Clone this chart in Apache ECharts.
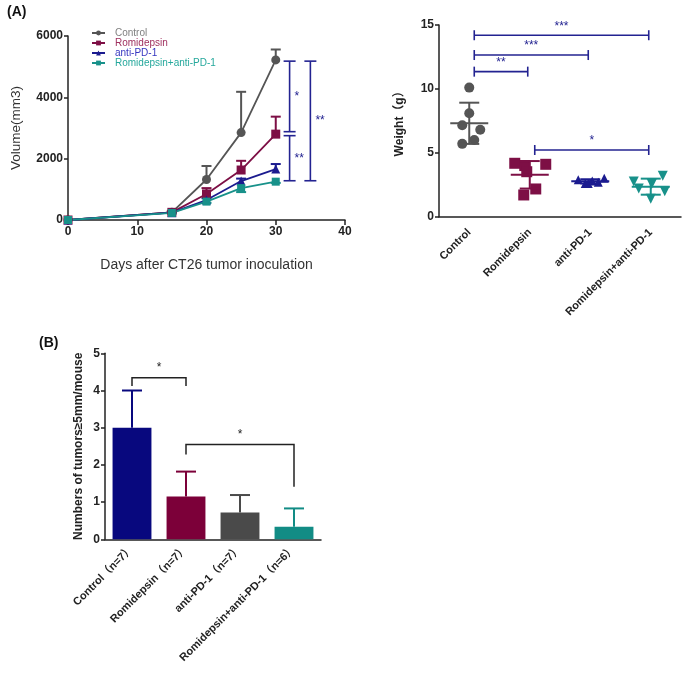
<!DOCTYPE html>
<html><head><meta charset="utf-8">
<script src="https://cdn.jsdelivr.net/npm/echarts@6/dist/echarts.min.js"></script>
<style>html,body{margin:0;padding:0;background:#fff}#c{width:685px;height:678px}</style>
</head><body><div id="c"></div>
<script>
// ---------- data ----------
const days = [0, 15, 20, 25, 30];
const groupNames = ['Control', 'Romidepsin', 'anti-PD-1', 'Romidepsin+anti-PD-1'];
const volControl = [0, 250, 1320, 2850, 5220];
const volRomi    = [0, 250, 850, 1630, 2800];
const volAnti    = [0, 240, 650, 1270, 1660];
const volCombo   = [0, 230, 600, 1040, 1250];
const semControl = [0, 30, 440, 1330, 340];
const semRomi    = [0, 30, 190, 300, 570];
const semAnti    = [0, 20, 60, 80, 165];
const semCombo   = [0, 20, 40, 130, 40];   // drawn below the mean

const volSigDay   = [32, 32, 35];
const volSigLow   = [2880, 1280, 1280];
const volSigHigh  = [5180, 2750, 5180];
const volSigLabel = ['*', '**', '**'];

const wControl = [10.1, 8.1, 7.15, 6.8, 6.0, 5.7];
const wRomi    = [4.18, 4.0, 4.1, 3.52, 2.17, 1.7];
const wAnti    = [2.9, 2.6, 2.8, 2.7, 3.0, 2.6];
const wCombo   = [3.2, 2.75, 2.55, 2.2, 2.0, 1.4];

const wSigFrom  = [0, 0, 0, 1];
const wSigTo    = [3, 2, 1, 3];
const wSigY     = [14.2, 12.65, 11.35, 5.22];
const wSigLabel = ['***', '***', '**', '*'];

const tumorNames = ['Control（n=7）', 'Romidepsin（n=7）', 'anti-PD-1（n=7）', 'Romidepsin+anti-PD-1（n=6）'];
const tumorMean  = [3.0, 1.15, 0.72, 0.34];
const tumorSD    = [1.0, 0.67, 0.47, 0.49];

const tSigFrom     = [0, 1];
const tSigTo       = [1, 3];
const tSigY        = [4.34, 2.55];
const tSigLeftEnd  = [4.12, 2.28];
const tSigRightEnd = [4.12, 1.41];
const tSigLabel    = ['*', '*'];

// ---------- styles ----------
const FONT = 'Arial, "Liberation Sans", "Noto Sans CJK SC", sans-serif';
const C_CTRL = '#555555', C_ROMI = '#7d0f45', C_ANTI = '#1b1b8f', C_COMBO = '#18918a';
const C_SIG = '#232391';
const AX = '#222';
const jitterControl = [0, 0, -7, 11, 5, -7];
const jitterRomi    = [-15, -5, 16, -3, 6, -6];
const jitterAnti    = [-12, -5, 2, 8, 14, -2];
const jitterCombo   = [12, -17, 1, -12, 14, 0];

function mean(a){ return a.reduce((s,v)=>s+v,0)/a.length; }
function sd(a){ const m=mean(a); return Math.sqrt(a.reduce((s,v)=>s+(v-m)*(v-m),0)/(a.length-1)); }
function barColor(i){ return ['#08087e', '#7c0039', '#4a4a4a', '#128c85'][i]; }

function errBar(dir, cap, lw){
  return function(params, api){
    const x = api.value(0), m = api.value(1), e = api.value(2);
    if (!e) return;
    const p0 = api.coord([x, m]), p1 = api.coord([x, m + dir*e]);
    const c = api.visual('color');
    return {type:'group', children:[
      {type:'line', shape:{x1:p0[0],y1:p0[1],x2:p1[0],y2:p1[1]}, style:{stroke:c,lineWidth:lw}},
      {type:'line', shape:{x1:p1[0]-cap,y1:p1[1],x2:p1[0]+cap,y2:p1[1]}, style:{stroke:c,lineWidth:lw}}
    ]};
  };
}

function lineSeries(name, vals, color, symbol, size){
  return {name, type:'line', xAxisIndex:0, yAxisIndex:0, data: days.map((d,i)=>[d, vals[i]]),
    symbol, symbolSize:size, lineStyle:{color, width:1.8}, itemStyle:{color}, z:3};
}
function lineErr(vals, sems, color, dir){
  return {type:'custom', xAxisIndex:0, yAxisIndex:0, itemStyle:{color}, z:2, silent:true,
    data: days.map((d,i)=>[d, vals[i], sems[i]]), renderItem: errBar(dir, 5, 2)};
}
function scatterSeries(idx, vals, jit, color, symbol, size, rot){
  return {type:'scatter', xAxisIndex:1, yAxisIndex:1, symbol, symbolSize:size, symbolRotate:rot||0,
    itemStyle:{color, opacity:1}, z:3,
    data: vals.map((v,i)=>({value:[idx, v], symbolOffset:[jit[i], 0]}))};
}

const wGroups = [wControl, wRomi, wAnti, wCombo];
const wColors = [C_CTRL, C_ROMI, C_ANTI, C_COMBO];

const chart = echarts.init(document.getElementById('c'), null, {renderer:'canvas'});
const option = {
  animation:false,
  backgroundColor:'#fff',
  textStyle:{fontFamily:FONT},
  title:[
    {text:'(A)', left:2, top:0, textStyle:{fontSize:14, fontWeight:'bold', color:'#111', fontFamily:FONT}},
    {text:'(B)', left:34, top:331, textStyle:{fontSize:14, fontWeight:'bold', color:'#111', fontFamily:FONT}}
  ],
  legend:{
    left:91, top:28, orient:'vertical', itemWidth:13, itemHeight:6, itemGap:0, padding:0,
    textStyle:{fontSize:10, lineHeight:10, fontFamily:FONT, padding:[0,0,0,5]},
    data:[
      {name:'Control', textStyle:{color:'#808080'}},
      {name:'Romidepsin', textStyle:{color:'#a0305f'}},
      {name:'anti-PD-1', textStyle:{color:'#3535c0'}},
      {name:'Romidepsin+anti-PD-1', textStyle:{color:'#25a89c'}}
    ]
  },
  grid:[
    {left:68, top:36, width:277, height:184, outerBoundsMode:'none', containLabel:false},
    {left:439, top:25, width:242, height:191.7, outerBoundsMode:'none', containLabel:false},
    {left:105, top:353.3, width:216, height:186, outerBoundsMode:'none', containLabel:false}
  ],
  xAxis:[
    {gridIndex:0, type:'value', min:0, max:40, interval:10,
     name:'Days after CT26 tumor inoculation', nameLocation:'middle', nameGap:38,
     nameTextStyle:{fontSize:14, color:'#333', fontFamily:FONT},
     axisLine:{lineStyle:{color:AX, width:1.5}}, axisTick:{length:5, lineStyle:{color:AX, width:1.5}},
     axisLabel:{fontSize:12, fontWeight:'bold', color:'#222', margin:6, fontFamily:FONT}, splitLine:{show:false}},
    {gridIndex:1, type:'category', data:groupNames, boundaryGap:true,
     axisLine:{lineStyle:{color:AX, width:1.5}}, axisTick:{alignWithLabel:true, length:5, lineStyle:{color:AX, width:1.5}},
     axisLabel:{rotate:45, interval:0, fontSize:11, fontWeight:'bold', color:'#222', margin:14, fontFamily:FONT}},
    {gridIndex:2, type:'category', data:tumorNames, boundaryGap:true,
     axisLine:{lineStyle:{color:AX, width:1.5}}, axisTick:{alignWithLabel:true, length:5, lineStyle:{color:AX, width:1.5}},
     axisLabel:{rotate:45, interval:0, fontSize:11, fontWeight:'bold', color:'#222', margin:8, fontFamily:FONT}}
  ],
  yAxis:[
    {gridIndex:0, type:'value', min:0, max:6000, interval:2000,
     name:'Volume(mm3)', nameLocation:'middle', nameGap:45,
     nameTextStyle:{fontSize:13.5, color:'#333', fontFamily:FONT},
     axisLine:{show:true, lineStyle:{color:AX, width:1.5}}, axisTick:{show:true, length:4, lineStyle:{color:AX, width:1.5}},
     axisLabel:{fontSize:12, fontWeight:'bold', color:'#222', margin:5, fontFamily:FONT, formatter:function(v){return String(v);}}, splitLine:{show:false}},
    {gridIndex:1, type:'value', min:0, max:15, interval:5,
     name:'Weight（g）', nameLocation:'middle', nameGap:33,
     nameTextStyle:{fontSize:12, fontWeight:'bold', color:'#222', fontFamily:FONT},
     axisLine:{show:true, lineStyle:{color:AX, width:1.5}}, axisTick:{show:true, length:4, lineStyle:{color:AX, width:1.5}},
     axisLabel:{fontSize:12, fontWeight:'bold', color:'#222', margin:5, fontFamily:FONT}, splitLine:{show:false}},
    {gridIndex:2, type:'value', min:0, max:5, interval:1,
     name:'Numbers of tumors≥5mm/mouse', nameLocation:'middle', nameGap:20,
     nameTextStyle:{fontSize:12, fontWeight:'bold', color:'#222', fontFamily:FONT},
     axisLine:{show:true, lineStyle:{color:AX, width:1.5}}, axisTick:{show:true, length:4, lineStyle:{color:AX, width:1.5}},
     axisLabel:{fontSize:12, fontWeight:'bold', color:'#222', margin:5, fontFamily:FONT}, splitLine:{show:false}}
  ],
  series:[
    lineErr(volControl, semControl, C_CTRL, 1),
    lineErr(volRomi, semRomi, C_ROMI, 1),
    lineErr(volAnti, semAnti, C_ANTI, 1),
    lineErr(volCombo, semCombo, C_COMBO, -1),
    lineSeries('Control', volControl, C_CTRL, 'circle', 9),
    lineSeries('Romidepsin', volRomi, C_ROMI, 'rect', 9),
    lineSeries('anti-PD-1', volAnti, C_ANTI, 'triangle', 9),
    lineSeries('Romidepsin+anti-PD-1', volCombo, C_COMBO, 'rect', 8),
    // volume significance brackets
    {type:'custom', xAxisIndex:0, yAxisIndex:0, silent:true, z:4,
     data: volSigDay.map((d,i)=>[d, volSigLow[i], volSigHigh[i]]),
     renderItem:function(params, api){
       const x=api.value(0), lo=api.value(1), hi=api.value(2);
       const pt=api.coord([x,hi]), pb=api.coord([x,lo]);
       const st={stroke:C_SIG, lineWidth:1.6};
       return {type:'group', children:[
         {type:'line', shape:{x1:pt[0],y1:pt[1],x2:pb[0],y2:pb[1]}, style:st},
         {type:'line', shape:{x1:pt[0]-6,y1:pt[1],x2:pt[0]+6,y2:pt[1]}, style:st},
         {type:'line', shape:{x1:pb[0]-6,y1:pb[1],x2:pb[0]+6,y2:pb[1]}, style:st},
         {type:'text', style:{x:pt[0]+5, y:(pt[1]+pb[1])/2, text:volSigLabel[params.dataIndex],
           fill:C_SIG, fontSize:12, fontFamily:FONT, align:'left', verticalAlign:'middle'}}
       ]};
     }},
    // weight scatter
    scatterSeries(0, wControl, jitterControl, C_CTRL, 'circle', 10),
    scatterSeries(1, wRomi, jitterRomi, C_ROMI, 'rect', 11),
    scatterSeries(2, wAnti, jitterAnti, C_ANTI, 'triangle', 9),
    scatterSeries(3, wCombo, jitterCombo, C_COMBO, 'triangle', 10, 180),
    // mean +/- SD
    {type:'custom', xAxisIndex:1, yAxisIndex:1, silent:true, z:4,
     data: wGroups.map((g,i)=>[i, mean(g), sd(g)]),
     renderItem:function(params, api){
       const x=api.value(0), m=api.value(1), s=api.value(2);
       const pm=api.coord([x,m]), pt=api.coord([x,m+s]), pb=api.coord([x,m-s]);
       const st={stroke:wColors[params.dataIndex], lineWidth:2};
       return {type:'group', children:[
         {type:'line', shape:{x1:pm[0]-19,y1:pm[1],x2:pm[0]+19,y2:pm[1]}, style:st},
         {type:'line', shape:{x1:pt[0],y1:pt[1],x2:pb[0],y2:pb[1]}, style:st},
         {type:'line', shape:{x1:pt[0]-10,y1:pt[1],x2:pt[0]+10,y2:pt[1]}, style:st},
         {type:'line', shape:{x1:pb[0]-10,y1:pb[1],x2:pb[0]+10,y2:pb[1]}, style:st}
       ]};
     }},
    // weight significance
    {type:'custom', xAxisIndex:1, yAxisIndex:1, silent:true, z:4,
     data: wSigFrom.map((f,i)=>[f, wSigTo[i], wSigY[i]]),
     renderItem:function(params, api){
       const a=api.value(0), b=api.value(1), y=api.value(2);
       const pa=api.coord([a,y]), pb=api.coord([b,y]);
       const x1=pa[0]+5, x2=pb[0]-2;
       const st={stroke:C_SIG, lineWidth:1.6};
       return {type:'group', children:[
         {type:'line', shape:{x1:x1,y1:pa[1],x2:x2,y2:pb[1]}, style:st},
         {type:'line', shape:{x1:x1,y1:pa[1]-5,x2:x1,y2:pa[1]+5}, style:st},
         {type:'line', shape:{x1:x2,y1:pb[1]-5,x2:x2,y2:pb[1]+5}, style:st},
         {type:'text', style:{x:(x1+x2)/2, y:pa[1]-3, text:wSigLabel[params.dataIndex],
           fill:C_SIG, fontSize:12, fontFamily:FONT, align:'center', verticalAlign:'bottom'}}
       ]};
     }},
    // tumor bars
    {type:'bar', xAxisIndex:2, yAxisIndex:2, barWidth:'72%', z:2,
     data: tumorMean.map((v,i)=>({value:v, itemStyle:{color:barColor(i)}}))},
    {type:'custom', xAxisIndex:2, yAxisIndex:2, silent:true, z:1,
     data: tumorMean.map((v,i)=>[i, v, tumorSD[i]]),
     renderItem:function(params, api){
       const x=api.value(0), m=api.value(1), e=api.value(2);
       const p0=api.coord([x,m]), p1=api.coord([x,m+e]);
       const st={stroke:barColor(params.dataIndex), lineWidth:2};
       return {type:'group', children:[
         {type:'line', shape:{x1:p0[0],y1:p0[1],x2:p1[0],y2:p1[1]}, style:st},
         {type:'line', shape:{x1:p1[0]-10,y1:p1[1],x2:p1[0]+10,y2:p1[1]}, style:st}
       ]};
     }},
    // tumor significance
    {type:'custom', xAxisIndex:2, yAxisIndex:2, silent:true, z:4,
     data: tSigFrom.map((f,i)=>[f, tSigTo[i], tSigY[i], tSigLeftEnd[i], tSigRightEnd[i]]),
     renderItem:function(params, api){
       const a=api.value(0), b=api.value(1), y=api.value(2), le=api.value(3), re=api.value(4);
       const pa=api.coord([a,y]), pb=api.coord([b,y]), pla=api.coord([a,le]), prb=api.coord([b,re]);
       const st={stroke:'#222', lineWidth:1.5};
       return {type:'group', children:[
         {type:'polyline', shape:{points:[[pla[0],pla[1]],[pa[0],pa[1]],[pb[0],pb[1]],[prb[0],prb[1]]]}, style:Object.assign({fill:null}, st)},
         {type:'text', style:{x:(pa[0]+pb[0])/2, y:pa[1]-4, text:tSigLabel[params.dataIndex],
           fill:'#222', fontSize:12, fontFamily:FONT, align:'center', verticalAlign:'bottom'}}
       ]};
     }}
  ]
};
chart.setOption(option);
</script>
</body></html>
